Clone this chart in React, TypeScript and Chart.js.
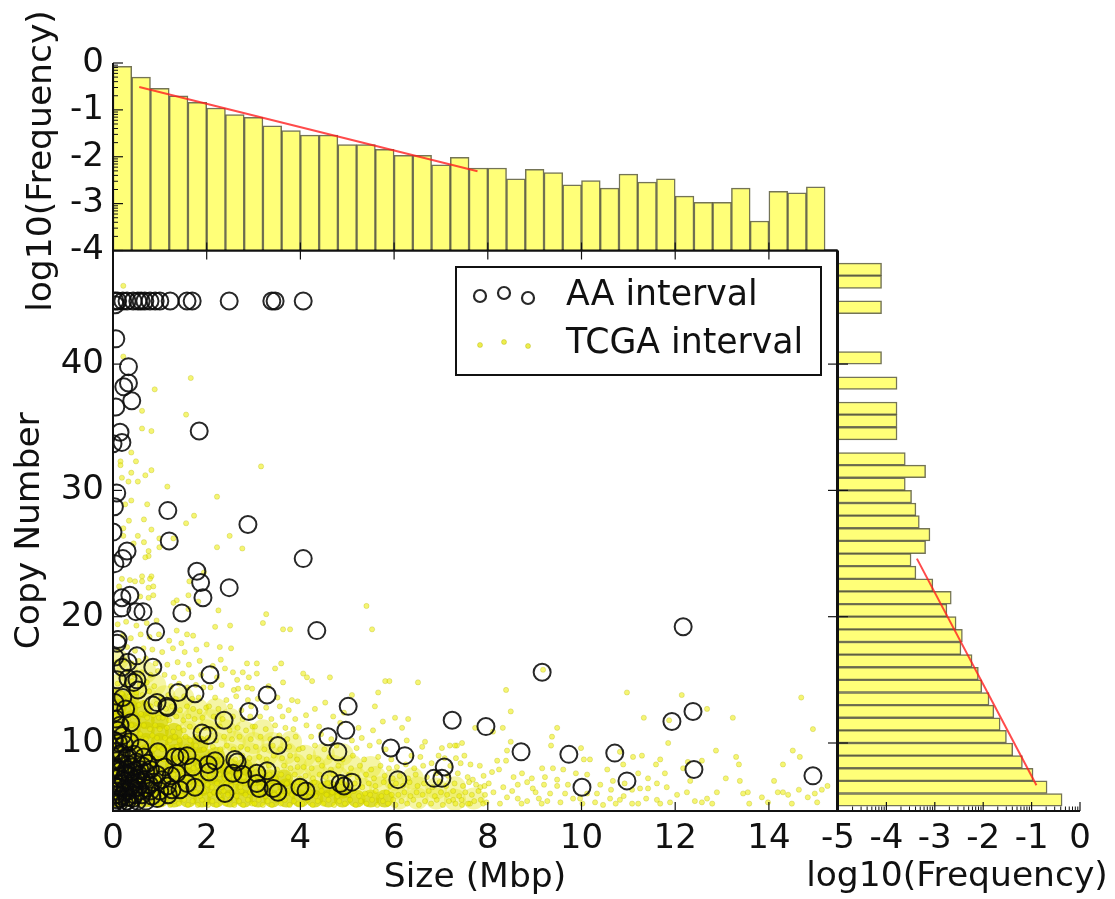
import React, { useEffect, useRef } from "react";
import Chart from "chart.js/auto";

const sizeTicks = [0, 2, 4, 6, 8, 10, 12, 14];
const copyTicks = [10, 20, 30, 40];
const topFreqTicks = [0, -1, -2, -3, -4];
const sideFreqTicks = [-5, -4, -3, -2, -1, 0];

const sizeBinCenters = [0.2,0.6,1,1.4,1.8,2.2,2.6,3,3.4,3.8,4.2,4.6,5,5.4,5.8,6.2,6.6,7,7.4,7.8,8.2,8.6,9,9.4,9.8,10.2,10.6,11,11.4,11.8,12.2,12.6,13,13.4,13.8,14.2,14.6,15];
const sizeFreq = [-0.07,-0.3,-0.54,-0.7,-0.84,-0.96,-1.1,-1.16,-1.34,-1.44,-1.54,-1.54,-1.74,-1.74,-1.84,-1.97,-1.97,-2.17,-2.01,-2.24,-2.24,-2.47,-2.27,-2.34,-2.6,-2.51,-2.67,-2.37,-2.54,-2.47,-2.84,-2.97,-2.97,-2.67,-3.37,-2.74,-2.77,-2.64];

const copyBinCenters = [5.5,6.5,7.5,8.5,9.5,10.5,11.5,12.5,13.5,14.5,15.5,16.5,17.5,18.5,19.5,20.5,21.5,22.5,23.5,24.5,25.5,26.5,27.5,28.5,29.5,30.5,31.5,32.5,34.5,35.5,36.5,38.5,40.5,44.5,46.5,47.5];
const copyFreq = [-0.37,-0.68,-0.97,-1.19,-1.39,-1.52,-1.65,-1.78,-1.88,-2.03,-2.1,-2.23,-2.46,-2.43,-2.56,-2.75,-2.66,-3.04,-3.39,-3.49,-3.19,-3.1,-3.32,-3.39,-3.48,-3.61,-3.19,-3.61,-3.78,-3.78,-3.78,-3.78,-4.1,-4.1,-4.1,-4.1];

const sizeFitX = [0.56, 7.78];
const sizeFitY = [-0.51, -2.31];
const copyFitX = [-0.9, -3.37];
const copyFitY = [6.65, 24.6];

const aaIntervals: number[][] = [
[0.04,45],[0.1,45],[0.21,45],[0.3,45],[0.43,45],[0.53,45],[0.6,45],[0.68,45],[0.79,45],[0.9,45],[1.0,45],[1.22,45],[1.58,45],[1.69,45],[2.48,45],[3.39,45],[3.46,45],[4.06,45],[0.05,44.7],
[0.06,42],[0.33,39.8],[0.33,38.5],[0.23,38.2],[0.4,37.1],[0.06,36.6],[0.15,34.6],[1.84,34.7],[0.19,33.8],[0,33.7],[0.08,29.8],[0.03,28.7],[1.17,28.4],[2.88,27.3],[0,26.7],[1.2,26],[0.3,25.2],[0.21,24.6],[4.06,24.6],[0.04,24.2],[1.79,23.6],[1.87,22.7],[2.48,22.3],[1.92,21.5],[0.36,21.7],[0.19,21.5],[0.19,20.7],[0.49,20.4],[0.64,20.4],[1.47,20.3],
[0.91,18.8],[4.35,18.9],[12.17,19.2],[9.16,15.6],[2.07,15.4],[0.85,16],[3.29,13.8],[1.75,13.9],[1.39,14],[5.02,12.9],[2.9,12.5],[0.85,13],[0.94,13.2],[1.15,12.9],[1.17,12.8],[12.38,12.5],[11.93,11.7],[7.24,11.8],[7.96,11.3],[4.97,11],[4.59,10.5],[2.37,11.8],[1.9,10.8],[2.03,10.6],[3.52,9.8],[5.93,9.6],[6.23,9],[4.8,9.3],[8.71,9.3],[9.73,9.1],[10.71,9.2],[7.07,8.1],[12.4,7.9],[14.94,7.4],[10.97,7],[10.01,6.5],[7.02,7.2],[6.85,7.2],[6.08,7.1],[4.63,7.1],[4.85,6.8],[5.1,6.9],[4.93,6.6],
[3.99,6.5],[4.12,6.2],[3.42,6.4],[3.52,6.1],[3.07,7.6],[3.29,7.8],[3.07,6.8],[3.12,6.4],[2.39,6],[2.6,8.7],[2.65,8.5],[2.56,7.6],[2.77,7.5],[2.18,8.6],[2.03,8.3],[2.05,7.7],[1.71,8.1],[1.58,9],[1.43,8.9],[1.32,8.9],[0.96,9.3],[0.58,9.6],[1.75,6.5],[1.58,6.8],[1.43,6.3],[1.26,6.3],[1.05,7.1],[0.94,7.5],[0.62,5.9],[0.15,11.4],[0.04,13.2],[0.21,13.6],[0.53,14.2],[0.51,15],[0.32,15.1],[0.32,16.4],[0.51,16.9],[0.09,17.9],[0.11,18.2],[0.04,16.8],[0.2,16],[0.44,14.8],[0.09,15],[0.03,12.4],[0.1,11],
[0.03,10.2],[0.12,10],[0.24,9.9],[0.36,10.1],[0.05,9.3],[0.18,9.2],[0.31,9],[0.45,9.1],[0.66,8.9],[0.08,8.6],[0.2,8.4],[0.33,8.3],[0.5,8.5],[0.74,8.4],[0.04,7.9],[0.15,7.8],[0.27,7.6],[0.41,7.7],[0.57,7.9],[0.8,7.9],[0.1,7.2],[0.22,7.1],[0.35,7],[0.49,7.2],[0.68,7.1],[0.86,6.9],[0.03,6.6],[0.14,6.5],[0.26,6.4],[0.39,6.6],[0.54,6.5],[0.72,6.4],[1,6.2],[0.07,5.9],[0.19,5.8],[0.31,5.7],[0.46,5.9],[0.83,5.8],[0.03,5.3],[0.12,5.2],[0.24,5.3],[0.37,5.2],[0.52,5.4],[0.7,5.4],[0.94,5.6],[1.18,5.9],
[0.06,8.1],[0.13,7.4],[0.17,6.8],[0.29,7.9],[0.25,6.1],[0.33,6.2],[0.42,8.1],[0.44,6.4],[0.09,6.2],[0.16,5.6],[0.36,7.4],[0.47,6.9],[0.55,7.5],[0.61,7],[0.29,8.8],[0.14,9.1],[0.21,10.6],[0.06,11.9],[0.38,11.6],[0.27,12.7],[0.62,8.2],[0.7,7.7],[0.78,6.7],[0.58,6.2],[0.1,5.5],[0.3,5.4],[0.42,5.6],[0.8,6.2],[1.1,8.1],[1.24,7.4],[1.16,6.6],[1.36,7.6]
];

const tcgaOutliers: number[][] = [
[0.22,46.2],[0.22,40.6],[1.66,38.9],[0.89,38],[0.62,36.3],[1.56,36],[0.62,34.9],[0.82,34.7],[0.39,33],[0.49,32.3],[0.16,32.3],[0.16,32],[3.16,31.9],[0.82,31.6],[0.39,31.4],[0.69,31.2],[0.19,31],[0.53,30.7],[0.33,30.7],[1.16,30.3],[2.22,29.5],[0.39,29.2],[0.73,28.9],[0.26,28.9],[1.73,28],[1.56,27.4],[0.66,27.7],[0.34,27.6],[0.82,26.9],[0.53,26.4],[0.22,26.4],[0.22,27],[2.49,26.4],[0.99,26.2],[1.29,26.2],[0.66,25.9],[0.44,25.8],[2.22,25.5],[2.76,25.4],[0.99,25.5],[0.76,25.2],[0.76,24.8],[0.69,24.7],[0.62,23.2],[0.82,23.2],[0.19,23],[0.36,22.9],[0.47,22.8],[0.62,22.8],[0.79,23],[0.86,22.4],[0.76,22.3],[0.13,22.4],[1.63,22.8],[1.94,23.5],[0.86,21.7],[0.58,21.6],[0.76,21.5],[1.61,21.7],[1.82,21.2],[1.36,21.3],[1.29,21.1],[1.61,20.6],[2.25,20.5],[3.27,20.2],[5.41,20.85],
[2.18,19.2],[2.5,19.3],[3.2,19.5],[3.63,19],[3.78,19],[5.53,19],[2,17.8],[2.28,17.6],[2.52,17.5],[1.58,18.6],[1.71,18.5],[1.36,18.9],[2.86,16.3],[2.39,15.9],[3.07,16.3],[3.07,15.5],[3.46,15.9],[3.59,16.3],[2.77,15.6],[2.56,15.6],[4.06,15.5],[4.25,14.9],[4.14,15.2],[4.63,15.2],[3.63,14.8],[5.81,14.9],[5.9,14.9],[6.51,14.8],[5.66,14],[3.82,13.4],[2.86,14.4],[2.67,14.3],[3.56,12.9],[5.59,12.9],[5.1,13.8],[4.31,12.7],[4.53,13.2],[6.3,11.9],[6.02,12],[5.76,11.7],[6.17,11.2],[5.55,11],[5.31,10.4],[6.27,10.2],[6.6,9.7],[6.66,10.1],[7.02,9.6],[7.19,9.8],[7.34,9.8],
[8.39,14.2],[8.49,12.5],[9.18,15.8],[10.97,14],[12.14,13.8],[12.68,12.7],[11.33,12],[11.87,11.8],[13.23,12],[14.69,13.6],[14.94,11.1],[9.48,11.2],[8.32,11.2],[7.73,11.2],[8.11,10.9],[9.37,10.5],[8.49,10.1],[7.45,10],[9.35,9.8],[7.3,9.8],[9.99,9.6],[11.85,10],[12.87,9.4],[14.51,9.4],[8.41,9.4],[13.3,8.9],[14.66,8.9],[10.05,8.7],[10.18,8.7],[11.68,8.7],[11.1,8.9],[11.29,9],[10.82,9.3],[12.57,8.6],[12.27,8.5],[8.2,8.6],[8.39,8.6],[13.36,8.3],[14.3,8.3],[10.89,8.3],[11.59,8.3],[9.16,8],[9.39,8],[12.17,8],[8.24,7.9],[8.09,7.7],[9.88,7.6],[11.78,7.6],[11.21,7.6],[10.12,7.5],[13.08,7.2],[13.38,7],[14.11,7],[12.32,7],[10.67,7],
[12.89,6.1],[13.55,6.1],[13.45,6],[14.19,6.1],[14.64,6.3],[15.13,6.3],[14.41,5.9],[14.3,6.1],[14.83,5.7],[14.98,6],[12.25,6.1],[12.04,5.9],[13.85,5.7],[13.98,5.3],[14.49,5.2],[15.03,5.3],[13.58,5.2],[12.79,5.2],[12.68,5.6],[12.57,5.3],[11.89,5.3],[11.68,5.2],[11.61,5.5],[11.21,5.2],[11.08,5.2],[10.82,5.5],[10.61,5.6],[10.46,5.1],[10.29,5.3],[9.97,5.6],[9.82,5.6],[9.65,6],[9.33,6],[8.96,6.4],[9.09,5.6],[8.84,5.4],[8.64,5.6],[8.26,5.2],[7.9,5.2],[7.62,5.2],[7.45,5.1],[7.26,5.5],[8.64,6.7],[8.84,6.9],[8.94,7.2],[9.22,7.3],[9.48,7.1],[9.48,6.6],[9.71,6.7],[10.4,6.7],[11.08,6.3],[11.25,6.4],[11.42,6.4],[11.61,6.8],[11.82,6.5],[10.63,6.3],[10.33,6],[10.12,6],[15.25,6.6],[8.12,6.1],[8.33,6.5],[8.52,6.2],[8.02,6.8],[7.84,6.5],[7.68,7.1],[7.91,7.4],[8.41,5.7],[8.72,5.2],[9.15,5.2],[9.27,5.4],[9.55,5.3],[10.02,5.2],[10.73,5.2],[10.9,5.8],[11.38,5.6],[12.42,5.4],[9.02,6.1],[9.2,6.7],[8.73,7.6],[8.55,7.3],[9.61,7.9],[10.55,7.9],[10.92,6.8],[11.42,7.2]
];

const tcgaBandA: number[][] = [
[0.05,5.1],[0.16,5.4],[0.28,5.1],[0.41,5.5],[0.57,5.1],[0.66,5.6],[0.78,5.2],[0.88,5.5],[0.97,5.1],[0.09,5.8],[0.23,6.1],[0.35,5.9],[0.47,6.2],[0.6,5.8],[0.74,6],[0.85,6.3],[0.95,5.9],[0.04,6.7],[0.18,6.9],[0.31,6.6],[0.44,6.8],[0.56,6.5],[0.69,6.9],[0.8,6.6],[0.92,6.8],[0.11,7.5],[0.26,7.3],[0.38,7.6],[0.51,7.3],[0.63,7.6],[0.76,7.2],[0.89,7.5],[0.98,7.2],[0.06,8.2],[0.2,8],[0.34,8.3],[0.46,8],[0.59,8.2],[0.71,8],[0.83,8.3],[0.96,8],[0.14,8.9],[0.27,9.1],[0.4,8.8],[0.54,9],[0.65,8.7],[0.78,9],[0.91,8.8],[0.08,9.7],[0.22,9.9],[0.36,9.6],[0.49,9.8],[0.62,9.5],[0.75,9.8],[0.87,9.5],[0.99,9.7],[0.03,10.5],[0.17,10.3],[0.3,10.6],[0.43,10.4],[0.58,10.7],[0.7,10.3],[0.84,10.6],[0.94,10.4],[0.12,11.3],[0.25,11.1],[0.39,11.4],[0.52,11.2],[0.66,11.4],[0.79,11.1],[0.9,11.4],[0.07,12.1],[0.21,12.2],[0.33,11.9],[0.47,12.1],[0.6,12.3],[0.73,12],[0.86,12.2],[0.98,12],[0.15,12.9],[0.29,13.1],[0.42,12.8],[0.55,13],[0.68,13.2],[0.81,12.9],[0.93,13.1],[0.05,13.8],[0.19,13.9],[0.35,13.7],[0.5,14],[0.63,13.8],[0.77,14.1],[0.1,14.7],[0.26,14.6],[0.41,14.9],[0.57,14.6],[0.72,14.8],[0.88,14.5],[0.16,15.5],[0.32,15.7],[0.46,15.4],[0.61,15.6],[0.8,15.4],[0.96,15.7],[0.08,16.4],[0.24,16.6],[0.4,16.3],[0.55,16.5],[0.7,16.7],[0.91,16.3],[0.13,17.4],[0.3,17.6],[0.47,17.3],[0.65,17.5],[0.84,17.4],[0.21,18.5],[0.38,18.3],[0.59,18.6],[0.78,18.4],[0.98,18.6],[0.1,19.4],[0.28,19.6],[0.5,19.3],[0.72,19.5],[0.93,19.7]
];

const tcgaBandB: number[][] = [
[1.03,5.2],[1.12,5.5],[1.22,5.1],[1.31,5.4],[1.41,5.2],[1.52,5.5],[1.6,5.1],[1.7,5.4],[1.81,5.1],[1.9,5.5],[1.98,5.2],[1.07,5.9],[1.17,6.2],[1.27,5.8],[1.37,6.1],[1.47,5.8],[1.56,6.2],[1.66,5.9],[1.76,6.1],[1.86,5.8],[1.95,6.2],[1.04,6.7],[1.14,6.5],[1.24,6.8],[1.34,6.6],[1.44,6.9],[1.54,6.6],[1.63,6.9],[1.73,6.6],[1.84,6.8],[1.93,6.5],[1.09,7.4],[1.19,7.2],[1.29,7.5],[1.39,7.2],[1.49,7.4],[1.58,7.2],[1.68,7.5],[1.78,7.3],[1.88,7.5],[1.97,7.2],[1.02,8],[1.13,7.9],[1.23,8.2],[1.33,7.9],[1.43,8.1],[1.53,7.9],[1.62,8.2],[1.72,8],[1.82,8.2],[1.92,7.9],[1.08,8.7],[1.18,8.9],[1.28,8.6],[1.38,8.9],[1.48,8.7],[1.59,9],[1.69,8.7],[1.79,8.9],[1.89,8.6],[1.99,8.9],[1.05,9.5],[1.16,9.7],[1.26,9.4],[1.36,9.7],[1.46,9.4],[1.57,9.7],[1.67,9.5],[1.77,9.8],[1.94,9.5],[1.11,10.4],[1.21,10.2],[1.32,10.5],[1.42,10.2],[1.55,10.5],[1.65,10.2],[1.75,10.5],[1.87,10.2],[1,11.1],[1.15,11.2],[1.28,10.9],[1.4,11.2],[1.51,11],[1.64,11.3],[1.8,11],[1.96,11.2],[1.06,12],[1.2,11.8],[1.35,12.1],[1.5,11.8],[1.61,12.1],[1.74,11.9],[1.91,12],[1.13,12.7],[1.26,12.9],[1.43,12.6],[1.58,12.9],[1.71,12.7],[1.85,12.5],[1.99,12.8],[1.03,13.6],[1.18,13.8],[1.34,13.5],[1.52,13.7],[1.69,13.5],[1.83,13.6],[1.24,14.5],[1.41,14.7],[1.59,14.4],[1.77,14.6],[1.93,14.4],[1.1,15.4],[1.3,15.2],[1.49,15.5],[1.68,15.2],[1.88,15.4],[1.16,16.2],[1.38,16.4],[1.62,16.2],[1.85,16.5],[1.05,17.2],[1.28,17.5],[1.53,17.2],[1.78,17.4],[1.2,18.1],[1.46,17.9]
];

const tcgaBandC: number[][] = [
[2.03,5.1],[2.12,5.4],[2.21,5.1],[2.31,5.5],[2.4,5.2],[2.5,5.5],[2.59,5.1],[2.69,5.4],[2.78,5.1],[2.88,5.5],[2.97,5.2],[2.07,5.9],[2.16,6.1],[2.26,5.8],[2.36,6.2],[2.45,5.9],[2.55,6.1],[2.64,5.8],[2.74,6.2],[2.83,5.9],[2.93,6.1],[2.02,6.7],[2.11,6.5],[2.22,6.8],[2.32,6.5],[2.42,6.8],[2.52,6.6],[2.62,6.9],[2.72,6.5],[2.82,6.8],[2.92,6.6],[2.06,7.4],[2.17,7.2],[2.27,7.5],[2.38,7.2],[2.48,7.4],[2.58,7.2],[2.68,7.5],[2.79,7.3],[2.9,7.5],[2.99,7.2],[2.1,8.1],[2.24,7.9],[2.35,8.2],[2.47,7.9],[2.6,8.2],[2.71,8],[2.85,8.1],[2.96,7.9],[2.04,8.8],[2.19,9],[2.33,8.7],[2.46,8.9],[2.61,8.7],[2.76,9],[2.91,8.8],[2.13,9.7],[2.29,9.5],[2.43,9.8],[2.57,9.5],[2.73,9.7],[2.87,9.5],[2.02,10.4],[2.2,10.2],[2.37,10.5],[2.54,10.3],[2.7,10.5],[2.94,10.3],[2.09,11.1],[2.28,11.3],[2.49,11],[2.66,11.2],[2.84,11],[2.98,11.3],[2.15,12.1],[2.34,11.9],[2.56,12.1],[2.77,11.9],[2.93,12.1],[2.05,12.9],[2.25,12.7],[2.5,12.9],[2.74,12.6],[2.95,12.9],[2.18,13.6],[2.42,13.4],[2.63,13.7],[2.88,13.4],[2.08,14.4],[2.32,14.6],[2.58,14.2],[2.97,14.3],[2.22,15.2],[2.65,15],[2.13,16.1],[2.3,16.6],[2.9,15.2]
];

const tcgaBandD: number[][] = [
[3.02,5.2],[3.11,5.5],[3.2,5.1],[3.3,5.4],[3.39,5.1],[3.49,5.5],[3.58,5.2],[3.67,5.5],[3.77,5.1],[3.86,5.4],[3.96,5.2],[3.06,5.9],[3.16,6.1],[3.25,5.8],[3.35,6.2],[3.44,5.9],[3.54,6.1],[3.63,5.8],[3.73,6.2],[3.82,5.9],[3.92,6.1],[3.01,6.8],[3.13,6.5],[3.24,6.8],[3.37,6.6],[3.48,6.9],[3.6,6.5],[3.71,6.8],[3.83,6.6],[3.95,6.9],[3.08,7.4],[3.21,7.2],[3.34,7.5],[3.47,7.2],[3.59,7.5],[3.74,7.3],[3.88,7.5],[3.99,7.2],[3.04,8.2],[3.18,8],[3.33,8.2],[3.5,7.9],[3.65,8.2],[3.79,8],[3.94,8.1],[3.12,8.9],[3.28,8.7],[3.43,9],[3.61,8.8],[3.78,9],[3.93,8.7],[3.05,9.7],[3.23,9.5],[3.41,9.8],[3.57,9.5],[3.76,9.7],[3.97,9.5],[3.15,10.5],[3.36,10.3],[3.55,10.6],[3.72,10.3],[3.9,10.5],[3.03,11.3],[3.26,11.1],[3.46,11.4],[3.68,11.2],[3.85,11.1],[3.14,12.1],[3.38,11.9],[3.62,12.1],[3.89,11.9],[3.27,12.8],[3.75,12.6],[3.09,13.5],[3.51,13.6],[3.94,13.3],[3.32,14.5]
];

const tcgaBandE: number[][] = [
[4.04,5.2],[4.15,5.5],[4.26,5.1],[4.37,5.4],[4.49,5.2],[4.6,5.5],[4.72,5.1],[4.83,5.4],[4.95,5.2],[5.06,5.5],[5.18,5.1],[5.29,5.4],[5.41,5.2],[5.53,5.5],[5.64,5.1],[5.76,5.4],[5.87,5.2],[5.98,5.5],[4.09,5.9],[4.21,6.1],[4.33,5.8],[4.45,6.2],[4.56,5.9],[4.68,6.1],[4.79,5.8],[4.91,6.1],[5.03,5.9],[5.14,6.2],[5.25,5.8],[5.38,6],[5.49,5.9],[5.61,6.2],[5.73,5.8],[5.84,6.1],[5.95,5.9],[4.03,6.8],[4.17,6.6],[4.3,6.9],[4.43,6.6],[4.58,6.8],[4.74,6.5],[4.88,6.9],[5.01,6.6],[5.16,6.8],[5.32,6.5],[5.46,6.8],[5.6,6.6],[5.78,6.9],[5.92,6.6],[4.11,7.4],[4.27,7.2],[4.41,7.5],[4.54,7.3],[4.7,7.5],[4.86,7.2],[5.04,7.5],[5.22,7.3],[5.4,7.5],[5.57,7.2],[5.8,7.4],[5.97,7.2],[4.07,8.1],[4.24,8],[4.46,8.2],[4.65,7.9],[4.81,8.2],[5.08,8],[5.27,8.2],[5.51,7.9],[5.71,8.2],[5.89,8],[4.19,8.9],[4.38,8.7],[4.62,8.9],[4.9,8.7],[5.12,9],[5.36,8.7],[5.66,8.9],[5.94,8.7],[4.05,9.6],[4.31,9.8],[4.51,9.5],[4.77,9.8],[5.2,9.6],[5.48,9.8],[5.82,9.5],[4.23,10.5],[4.44,10.7],[4.66,10.3],[5.1,10.2],[5.68,10.1],[4.13,11.4],[4.4,11.3],[4.85,11.6],[5.24,11.2],[4.7,12.1],[4.93,12.4],[4.12,12.2]
];

const tcgaBandF: number[][] = [
[6.03,5.1],[6.16,5.4],[6.28,5.2],[6.41,5.5],[6.53,5.1],[6.66,5.4],[6.79,5.2],[6.91,5.5],[7.04,5.1],[7.17,5.4],[7.31,5.2],[7.44,5.5],[7.58,5.2],[7.71,5.4],[7.85,5.5],[7.97,5.3],[6.09,5.9],[6.22,6.1],[6.35,5.8],[6.48,6.1],[6.61,5.9],[6.74,6.2],[6.87,5.8],[7,6.1],[7.13,5.9],[7.26,6.2],[7.39,5.8],[7.52,6.1],[7.66,5.9],[7.8,6.2],[7.94,5.9],[6.04,6.8],[6.19,6.6],[6.33,6.9],[6.5,6.6],[6.64,6.8],[6.82,6.5],[6.97,6.9],[7.11,6.6],[7.29,6.8],[7.47,6.6],[7.6,6.9],[7.75,6.7],[7.93,6.6],[6.12,7.4],[6.3,7.2],[6.46,7.5],[6.7,7.3],[6.9,7.6],[7.15,7.4],[7.36,7.6],[7.57,7.3],[6.06,8.1],[6.25,8.3],[6.43,8],[6.62,8.2],[6.8,8.4],[7.2,8.2],[7.42,8.4],[7.63,8.3],[7.83,8.2],[6.37,9],[6.56,8.9],[6.95,9],[7.08,8.8],[7.32,8.8],[7.5,9]
];

const tcgaIntervals: number[][] = [...tcgaOutliers, ...tcgaBandA, ...tcgaBandB, ...tcgaBandC, ...tcgaBandD, ...tcgaBandE, ...tcgaBandF];

// Where the TCGA dots merge into a solid mass: read as blobs of saturated colour.
const tcgaSolidMass: number[][] = [
[0.1,5.6],[0.4,5.6],[0.7,5.6],[1,5.6],[1.3,5.6],[1.6,5.6],[1.9,5.6],[2.2,5.6],[2.5,5.6],[2.8,5.6],[3.1,5.6],[3.4,5.6],[3.7,5.6],[4,5.6],[4.3,5.6],[4.6,5.6],[4.9,5.6],[5.2,5.6],[5.5,5.6],[5.8,5.6],
[0.1,6.5],[0.4,6.5],[0.7,6.5],[1,6.5],[1.3,6.5],[1.6,6.5],[1.9,6.5],[2.2,6.5],[2.5,6.5],[2.8,6.5],[3.1,6.5],[3.4,6.5],[3.7,6.5],[4,6.5],[4.3,6.4],[4.6,6.4],[4.9,6.3],
[0.1,7.4],[0.4,7.4],[0.7,7.4],[1,7.4],[1.3,7.4],[1.6,7.4],[1.9,7.4],[2.2,7.4],[2.5,7.4],[2.8,7.4],[3.1,7.3],[3.35,7.2],[3.65,7.2],
[0.1,8.3],[0.4,8.3],[0.7,8.3],[1,8.3],[1.3,8.3],[1.6,8.3],[1.9,8.3],[2.2,8.2],[2.5,8.1],[2.8,8.1],
[0.1,9.2],[0.4,9.2],[0.7,9.2],[1,9.2],[1.3,9.2],[1.6,9.1],[1.9,9],[2.2,9],
[0.1,10.1],[0.4,10.1],[0.7,10.1],[1,10.1],[1.3,10],[1.55,9.9],[1.85,9.9],
[0.1,11],[0.4,11],[0.7,11],[1,10.9],[1.3,10.9],
[0.1,11.9],[0.4,11.9],[0.7,11.8],[1,11.8],
[0.1,12.8],[0.35,12.8],[0.65,12.7],
[0.1,13.6],[0.38,13.6]
];
// Where the dots are thick but still speckled.
const tcgaThickMass: number[][] = [
[6.1,5.6],[6.5,5.6],[6.9,5.6],[7.3,5.5],[7.7,5.6],[5.3,6.4],[5.7,6.5],[6.1,6.4],[6.5,6.5],[6.9,6.4],[7.3,6.5],[4,7.3],[4.4,7.4],[4.8,7.3],[5.2,7.2],[5.6,7.3],[6,7.1],[6.4,7.2],[3.1,8.2],[3.5,8.2],[3.9,8.3],[4.3,8.2],[4.7,8.2],[5.1,8.2],[5.5,8.1],[2.5,9.1],[2.9,9.2],[3.3,9.1],[3.7,9.2],[4.1,9],[4.5,9.1],[4.9,9.1],[2.2,10],[2.6,10.1],[3,10],[3.4,10],[3.8,10.1],[1.6,10.9],[2,11],[2.4,11],[2.8,10.9],[3.2,11],[1.3,11.9],[1.7,11.9],[2.1,11.8],[2.5,11.9],[1,12.8],[1.4,12.8],[1.8,12.7],[2.2,12.7],[0.7,13.7],[1.1,13.7],[1.5,13.6],[0.1,14.6],[0.5,14.7],[0.9,14.6],[0.3,15.7],[0.7,15.6],[0.1,16.6]
];

const FONT = "'DejaVu Sans'";
const INK = "#111";
const YELLOW_BAR = "#ffff78";
const BAR_EDGE = "rgba(70,70,30,0.75)";
const FIT_RED = "rgba(255,30,30,0.8)";
const AA_STROKE = "rgba(10,10,10,0.88)";
const TCGA_FILL = "rgba(236,236,0,0.55)";
const TCGA_EDGE = "rgba(170,170,0,0.35)";

const L = 113, R = 837, MT = 250.5, MB = 811, TT = 63, SL = 838, SR = 1080;
const W = 1115, H = 899;
const xMax = (R - L) / 46.85;
const yMin = 10 - (MB - 743) / 12.63;
const yMax = 10 + (743 - MT) / 12.63;

const fitted = (tickVals: number[], w?: number, h?: number) => ({
  afterBuildTicks: (s: any) => { s.ticks = tickVals.map((value) => ({ value })); },
  afterFit: (s: any) => { if (w !== undefined) s.width = w; if (h !== undefined) s.height = h; },
});
const tickFont = { family: FONT, size: 34 };
const titleFont = { family: FONT, size: 34.5, lineHeight: 1 };
const cleanGrid = { display: false, drawTicks: false };

function line(c: any, x0: number, y0: number, x1: number, y1: number, w = 1.2) {
  c.lineWidth = w; c.beginPath(); c.moveTo(x0, y0); c.lineTo(x1, y1); c.stroke();
}
function logMinors(lo: number): number[] {
  const out: number[] = [];
  for (let d = lo; d < 0; d++) for (let k = 2; k <= 9; k++) out.push(d + Math.log10(k));
  return out;
}

const mainFrame = {
  id: "mainFrame",
  afterDraw(ch: any) {
    const c = ch.ctx, a = ch.chartArea, sx = ch.scales.x, sy = ch.scales.y;
    c.save(); c.strokeStyle = INK;
    sizeTicks.forEach((v) => { const p = sx.getPixelForValue(v); line(c, p, a.bottom, p, a.bottom - 9); line(c, p, a.top, p, a.top + 9); });
    copyTicks.forEach((v) => { const p = sy.getPixelForValue(v); line(c, a.left, p, a.left + 9, p); line(c, a.right, p, a.right - 9, p); });
    c.lineWidth = 2; c.strokeRect(a.left, a.top, a.right - a.left, a.bottom - a.top);
    c.fillStyle = "#fff"; c.fillRect(456, 267, 365, 108); c.strokeStyle = INK; c.lineWidth = 2; c.strokeRect(456, 267, 365, 108);
    [[480, 296], [504, 293], [528, 298]].forEach(([x, y]) => { c.beginPath(); c.arc(x, y, 6, 0, 7); c.strokeStyle = AA_STROKE; c.lineWidth = 2.2; c.stroke(); });
    [[480, 345], [504, 342], [528, 346]].forEach(([x, y]) => { c.beginPath(); c.arc(x, y, 2.5, 0, 7); c.fillStyle = "rgba(230,230,0,0.7)"; c.fill(); c.strokeStyle = TCGA_EDGE; c.lineWidth = 1; c.stroke(); });
    c.fillStyle = INK; c.font = `34.7px ${FONT}`; c.textBaseline = "middle"; c.textAlign = "left";
    c.fillText("AA interval", 566, 296); c.fillText("TCGA interval", 566, 344);
    c.restore();
  },
};
const topFrame = {
  id: "topFrame",
  afterDraw(ch: any) {
    const c = ch.ctx, a = ch.chartArea, sx = ch.scales.x, sy = ch.scales.y;
    c.save(); c.strokeStyle = INK;
    sizeTicks.forEach((v) => { const p = sx.getPixelForValue(v); line(c, p, a.bottom, p, a.bottom - 8); });
    topFreqTicks.forEach((v) => { const p = sy.getPixelForValue(v); line(c, a.left, p, a.left + 10, p); });
    logMinors(-4).forEach((v) => { const p = sy.getPixelForValue(v); line(c, a.left, p, a.left + 5, p, 1); });
    line(c, a.left, a.top, a.left, a.bottom, 2); line(c, a.left, a.bottom, a.right, a.bottom, 2);
    c.fillStyle = INK; c.font = `34.5px ${FONT}`; c.textAlign = "center"; c.textBaseline = "middle";
    c.translate(42, 161); c.rotate(-Math.PI / 2); c.fillText("log10(Frequency)", 0, 0);
    c.restore();
  },
};
const sideFrame = {
  id: "sideFrame",
  afterDraw(ch: any) {
    const c = ch.ctx, a = ch.chartArea, sx = ch.scales.x, sy = ch.scales.y;
    c.save(); c.strokeStyle = INK;
    copyTicks.forEach((v) => { const p = sy.getPixelForValue(v); line(c, a.left, p, a.left + 10, p); });
    sideFreqTicks.forEach((v) => { const p = sx.getPixelForValue(v); line(c, p, a.bottom, p, a.bottom - 9); });
    logMinors(-5).forEach((v) => { const p = sx.getPixelForValue(v); line(c, p, a.bottom, p, a.bottom - 4.5, 1); });
    line(c, a.left, a.top, a.left, a.bottom, 2); line(c, a.left, a.bottom, a.right, a.bottom, 2);
    c.fillStyle = INK; c.font = `34.5px ${FONT}`; c.textAlign = "center"; c.textBaseline = "middle";
    c.fillText("log10(Frequency)", 957, 877);
    c.restore();
  },
};

const toXY = (xs: number[], ys: number[]) => xs.map((x, i) => ({ x, y: ys[i] }));
const barStyle = { backgroundColor: YELLOW_BAR, borderColor: BAR_EDGE, borderWidth: 1.5, barPercentage: 1, categoryPercentage: 1 };
const fitStyle = { type: "line" as const, borderColor: FIT_RED, borderWidth: 2, pointRadius: 0, fill: false };

export default function App() {
  const mainRef = useRef<HTMLCanvasElement>(null);
  const topRef = useRef<HTMLCanvasElement>(null);
  const sideRef = useRef<HTMLCanvasElement>(null);

  useEffect(() => {
    const base = { responsive: false, animation: false as const, plugins: { legend: { display: false }, tooltip: { enabled: false } } };
    const main = new Chart(mainRef.current!, {
      type: "scatter",
      data: {
        datasets: [
          { label: "TCGA solid", data: tcgaSolidMass.map(([x, y]) => ({ x, y })), pointRadius: 9, backgroundColor: "rgba(212,212,0,0.8)", borderWidth: 0, order: 4 },
          { label: "TCGA thick", data: tcgaThickMass.map(([x, y]) => ({ x, y })), pointRadius: 11, backgroundColor: "rgba(232,232,40,0.42)", borderWidth: 0, order: 3 },
          { label: "TCGA interval", data: tcgaIntervals.map(([x, y]) => ({ x, y })), pointRadius: 2.6, backgroundColor: TCGA_FILL, borderColor: TCGA_EDGE, borderWidth: 0.8, order: 2 },
          { label: "AA interval", data: aaIntervals.map(([x, y]) => ({ x, y })), pointRadius: 8.5, backgroundColor: "rgba(0,0,0,0)", borderColor: AA_STROKE, borderWidth: 2, order: 1 },
        ],
      },
      options: {
        ...base,
        layout: { padding: { top: MT, right: W - R, left: 0, bottom: 0 } },
        scales: {
          x: {
            type: "linear", min: 0, max: xMax, grid: cleanGrid, border: { display: false }, ...fitted(sizeTicks, undefined, H - MB),
            ticks: { font: tickFont, color: INK, padding: 8, maxRotation: 0, autoSkip: false, callback: (v: any) => String(v) },
            title: { display: true, text: "Size (Mbp)", font: titleFont, color: INK, padding: { top: 4, bottom: 4 } },
          },
          y: {
            type: "linear", min: yMin, max: yMax, grid: cleanGrid, border: { display: false }, ...fitted(copyTicks, L),
            ticks: { font: tickFont, color: INK, padding: 9, autoSkip: false, callback: (v: any) => String(v) },
            title: { display: true, text: "Copy Number", font: titleFont, color: INK, padding: { top: 13, bottom: 13 } },
          },
        },
      },
      plugins: [mainFrame],
    } as any);

    const top = new Chart(topRef.current!, {
      type: "bar",
      data: {
        datasets: [
          { ...barStyle, base: -4, data: toXY(sizeBinCenters, sizeFreq), order: 2 },
          { ...fitStyle, data: toXY(sizeFitX, sizeFitY), order: 1 },
        ],
      },
      options: {
        ...base,
        layout: { padding: { top: TT, right: W - R, left: 0, bottom: 0 } },
        scales: {
          x: { type: "linear", offset: false, min: 0, max: xMax, grid: cleanGrid, border: { display: false }, ...fitted(sizeTicks, undefined, H - MT), ticks: { display: false } },
          y: {
            type: "linear", min: -4, max: 0, grid: cleanGrid, border: { display: false }, ...fitted(topFreqTicks, L),
            ticks: { font: tickFont, color: INK, padding: 9, autoSkip: false, callback: (v: any) => String(v) },
          },
        },
      },
      plugins: [topFrame],
    } as any);

    const side = new Chart(sideRef.current!, {
      type: "bar",
      data: {
        datasets: [
          { ...barStyle, base: -5, data: copyBinCenters.map((y, i) => ({ x: copyFreq[i], y })), order: 2 },
          { ...fitStyle, data: toXY(copyFitX, copyFitY), order: 1 },
        ],
      },
      options: {
        ...base,
        indexAxis: "y",
        layout: { padding: { top: MT, right: W - SR, left: 0, bottom: 0 } },
        scales: {
          x: {
            type: "linear", min: -5, max: 0, grid: cleanGrid, border: { display: false }, ...fitted(sideFreqTicks, undefined, H - MB),
            ticks: { font: tickFont, color: INK, padding: 8, maxRotation: 0, autoSkip: false, callback: (v: any) => String(v) },
          },
          y: {
            type: "linear", offset: false, min: yMin, max: yMax, grid: cleanGrid, border: { display: false }, ...fitted(copyTicks, SL), ticks: { display: false },
          },
        },
      },
      plugins: [sideFrame],
    } as any);

    return () => { main.destroy(); top.destroy(); side.destroy(); };
  }, []);

  const layer: React.CSSProperties = { position: "absolute", left: 0, top: 0 };
  return (
    <div style={{ position: "absolute", left: 0, top: 0, width: W, height: H, background: "#fff", filter: "blur(0.5px)" }}>
      <canvas ref={mainRef} width={W} height={H} style={layer} />
      <canvas ref={topRef} width={W} height={H} style={layer} />
      <canvas ref={sideRef} width={W} height={H} style={layer} />
    </div>
  );
}
